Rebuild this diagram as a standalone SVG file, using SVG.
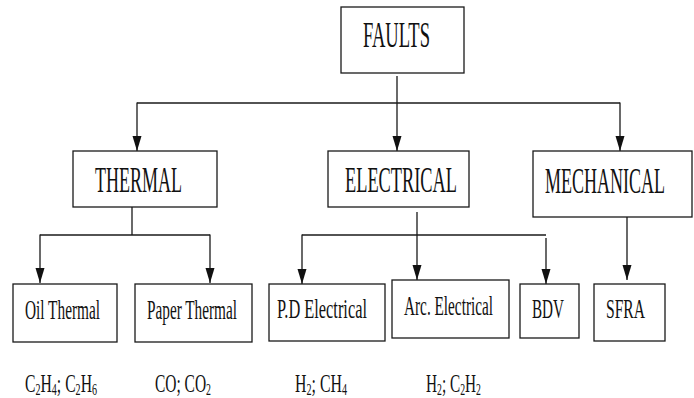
<svg xmlns="http://www.w3.org/2000/svg" width="694" height="398" viewBox="0 0 694 398">
<style>
.box{fill:#fff;stroke:#1a1a1a;stroke-width:1.3}
.big{font-family:"Liberation Serif","Times New Roman",serif;font-size:36px;fill:#111;text-anchor:middle}
.sm{font-family:"Liberation Serif","Times New Roman",serif;font-size:28px;fill:#111;text-anchor:middle}
.gas{font-family:"Liberation Serif","Times New Roman",serif;font-size:25px;fill:#111;text-anchor:start}
.sub{font-size:16px}
.ln{fill:none;stroke:#1a1a1a;stroke-width:1.3}
</style>
<defs>
<marker id="ah" markerUnits="userSpaceOnUse" markerWidth="16" markerHeight="10" refX="15" refY="4.5" orient="auto">
<path d="M0,0 L15,4.5 L0,9 Z" fill="#111"/>
</marker>
</defs>
<rect width="694" height="398" fill="#fff"/>
<g id="connectors">
<line class="ln" x1="397" y1="76" x2="397" y2="151" marker-end="url(#ah)"/>
<line class="ln" x1="137" y1="103" x2="620" y2="103"/>
<line class="ln" x1="137" y1="102.4" x2="137" y2="151" marker-end="url(#ah)"/>
<line class="ln" x1="620" y1="102.4" x2="620" y2="151" marker-end="url(#ah)"/>
<line class="ln" x1="132" y1="207" x2="132" y2="235"/>
<line class="ln" x1="40" y1="235" x2="210" y2="235"/>
<line class="ln" x1="40" y1="234.4" x2="40" y2="283" marker-end="url(#ah)"/>
<line class="ln" x1="210" y1="234.4" x2="210" y2="283" marker-end="url(#ah)"/>
<line class="ln" x1="302" y1="235" x2="546" y2="235"/>
<line class="ln" x1="302" y1="234.4" x2="302" y2="284" marker-end="url(#ah)"/>
<line class="ln" x1="417" y1="212" x2="417" y2="280" marker-end="url(#ah)"/>
<line class="ln" x1="546" y1="238" x2="546" y2="284" marker-end="url(#ah)"/>
<line class="ln" x1="627" y1="217" x2="627" y2="280" marker-end="url(#ah)"/>
</g>
<g id="faults"><rect class="box" x="341" y="7" width="123" height="66"/><text class="big" x="396.5" y="47" textLength="67" lengthAdjust="spacingAndGlyphs">FAULTS</text></g>
<g id="thermal"><rect class="box" x="73" y="151" width="144" height="56"/><text class="big" x="138.5" y="192" textLength="87" lengthAdjust="spacingAndGlyphs">THERMAL</text></g>
<g id="electrical"><rect class="box" x="328" y="151" width="141" height="56"/><text class="big" x="401" y="192" textLength="112" lengthAdjust="spacingAndGlyphs">ELECTRICAL</text></g>
<g id="mechanical"><rect class="box" x="533" y="151" width="159" height="66"/><text class="big" x="605" y="193" textLength="120" lengthAdjust="spacingAndGlyphs">MECHANICAL</text></g>
<g id="oil-thermal"><rect class="box" x="13" y="284" width="104" height="58"/><text class="sm" x="62.5" y="319" textLength="75" lengthAdjust="spacingAndGlyphs">Oil Thermal</text></g>
<g id="paper-thermal"><rect class="box" x="135" y="284" width="117" height="58"/><text class="sm" x="192" y="319" textLength="90" lengthAdjust="spacingAndGlyphs">Paper Thermal</text></g>
<g id="pd-electrical"><rect class="box" x="269" y="284" width="116" height="57"/><text class="sm" x="322" y="318" textLength="90" lengthAdjust="spacingAndGlyphs">P.D Electrical</text></g>
<g id="arc-electrical"><rect class="box" x="392" y="280" width="117" height="58"/><text class="sm" x="448.5" y="315" textLength="89" lengthAdjust="spacingAndGlyphs">Arc. Electrical</text></g>
<g id="bdv"><rect class="box" x="520" y="284" width="59" height="54"/><text class="sm" x="548" y="318" textLength="32" lengthAdjust="spacingAndGlyphs">BDV</text></g>
<g id="sfra"><rect class="box" x="594" y="284" width="71" height="57"/><text class="sm" x="625.5" y="318" textLength="39" lengthAdjust="spacingAndGlyphs">SFRA</text></g>
<g id="gas-labels">
<text class="gas" x="25" y="392" textLength="72" lengthAdjust="spacingAndGlyphs">C<tspan class="sub" dy="3">2</tspan><tspan dy="-3">H</tspan><tspan class="sub" dy="3">4</tspan><tspan dy="-3">; C</tspan><tspan class="sub" dy="3">2</tspan><tspan dy="-3">H</tspan><tspan class="sub" dy="3">6</tspan></text>
<text class="gas" x="155" y="392" textLength="56" lengthAdjust="spacingAndGlyphs">CO; CO<tspan class="sub" dy="3">2</tspan></text>
<text class="gas" x="295" y="392" textLength="52" lengthAdjust="spacingAndGlyphs">H<tspan class="sub" dy="3">2</tspan><tspan dy="-3">; CH</tspan><tspan class="sub" dy="3">4</tspan></text>
<text class="gas" x="426" y="392" textLength="55" lengthAdjust="spacingAndGlyphs">H<tspan class="sub" dy="3">2</tspan><tspan dy="-3">; C</tspan><tspan class="sub" dy="3">2</tspan><tspan dy="-3">H</tspan><tspan class="sub" dy="3">2</tspan></text>
</g>
</svg>
